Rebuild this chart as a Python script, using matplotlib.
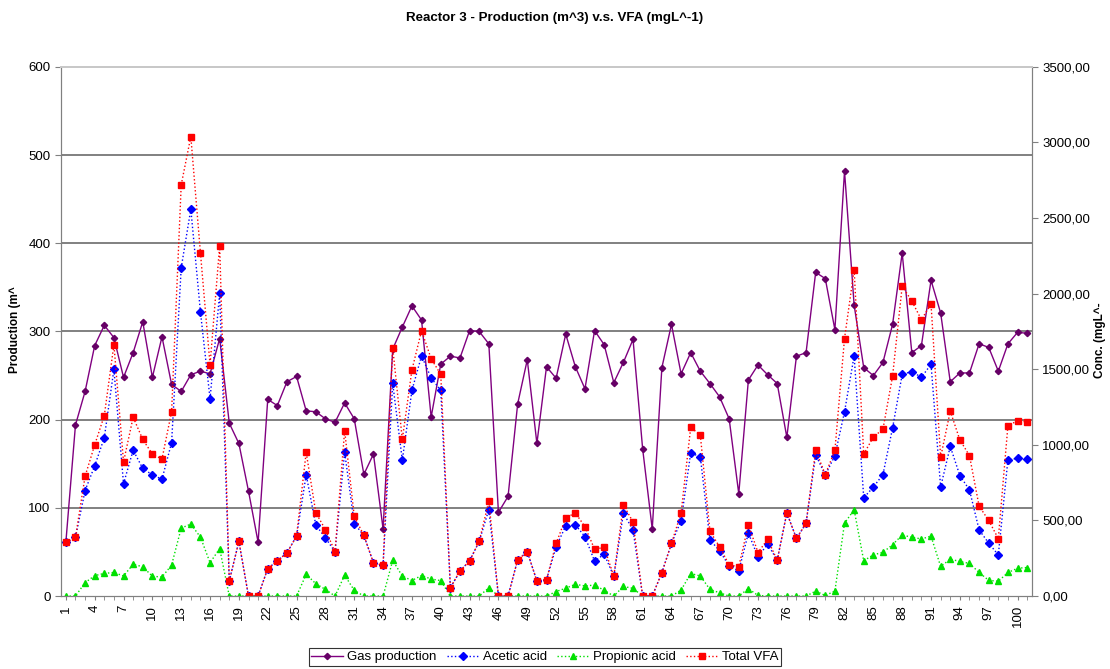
import matplotlib
matplotlib.use("Agg")
import matplotlib.pyplot as plt
from matplotlib.lines import Line2D
from matplotlib.ticker import FuncFormatter

plt.rcParams['font.family'] = ['Liberation Sans', 'DejaVu Sans']

# day index 1..101
days = list(range(1, 102))

# gas production (m^3), left axis
gas_production = [
    61, 194, 232, 284, 307, 293, 248, 276, 311, 248,
    294, 240, 232, 251, 255, 252, 292, 196, 173, 119,
    61, 223, 216, 243, 249, 210, 209, 201, 197, 219,
    201, 138, 161, 76, 280, 305, 329, 313, 203, 263,
    272, 270, 301, 300, 286, 95, 113, 218, 268, 173,
    260, 247, 297, 260, 235, 301, 285, 242, 265, 291,
    167, 76, 259, 308, 252, 276, 255, 241, 226, 201,
    116, 245, 262, 251, 241, 180, 272, 276, 367, 360,
    302, 482, 330, 259, 250, 265, 308, 389, 276, 284,
    358, 321, 243, 253, 253, 286, 282, 255, 286, 299,
    298,
]

# concentrations (mg/L), right axis
acetic_acid = [
    355, 388, 698, 861, 1048, 1499, 743, 965, 844, 802,
    773, 1015, 2171, 2559, 1880, 1305, 2003, 100, 362, 0,
    0, 182, 233, 286, 397, 802, 470, 385, 293, 953,
    480, 401, 220, 204, 1407, 899, 1360, 1589, 1443, 1360,
    55, 166, 233, 362, 572, 0, 0, 240, 293, 100,
    109, 326, 464, 472, 393, 231, 277, 131, 548, 437,
    0, 0, 155, 348, 499, 946, 922, 373, 299, 200,
    166, 417, 259, 344, 237, 550, 381, 481, 935, 800,
    929, 1218, 1589, 650, 721, 804, 1112, 1466, 1485, 1447,
    1533, 721, 990, 797, 702, 438, 350, 272, 903, 910,
    906,
]

propionic_acid = [
    0, 0, 89, 135, 150, 156, 133, 210, 194, 131,
    126, 205, 450, 476, 390, 221, 314, 0, 0, 0,
    0, 0, 0, 0, 0, 144, 82, 44, 0, 138,
    38, 0, 0, 0, 236, 132, 103, 136, 113, 102,
    0, 0, 0, 0, 55, 0, 0, 0, 0, 0,
    0, 30, 52, 78, 67, 73, 38, 0, 64, 51,
    0, 0, 0, 0, 40, 149, 133, 44, 22, 0,
    0, 49, 4, 0, 0, 0, 0, 0, 33, 4,
    33, 482, 571, 233, 273, 289, 340, 404, 389, 378,
    396, 196, 244, 229, 216, 156, 104, 98, 156, 184,
    189,
]

total_vfa = [
    355, 388, 792, 1000, 1194, 1663, 887, 1183, 1036, 939,
    906, 1220, 2720, 3039, 2270, 1530, 2318, 100, 362, 0,
    0, 182, 233, 286, 397, 951, 552, 439, 293, 1095,
    528, 401, 220, 204, 1644, 1036, 1495, 1755, 1570, 1466,
    55, 166, 233, 362, 628, 0, 0, 240, 293, 100,
    109, 348, 517, 550, 459, 310, 322, 131, 603, 490,
    0, 0, 155, 348, 550, 1116, 1064, 430, 326, 206,
    194, 472, 288, 375, 237, 550, 381, 481, 965, 804,
    963, 1703, 2159, 939, 1052, 1104, 1454, 2050, 1951, 1828,
    1932, 918, 1223, 1033, 929, 595, 500, 380, 1128, 1159,
    1152,
]

gas_color = "#800080"
acetic_color = "#0000FF"
propionic_color = "#00E000"
total_color = "#FF0000"

fig = plt.figure(figsize=(11.1, 6.69), dpi=100)
ax = fig.add_axes([0.055, 0.109, 0.8747, 0.791])
ax2 = ax.twinx()

ax.plot(days, gas_production, color=gas_color, lw=1.0, marker="D", ms=3.2,
        mfc="#660066", mec="#660066", zorder=3)

ax2.plot(days, acetic_acid, color=acetic_color, lw=1.0, ls=":", marker="D",
         ms=3.8, mfc=acetic_color, mec=acetic_color)
ax2.plot(days, propionic_acid, color=propionic_color, lw=1.0, ls=":", marker="^",
         ms=5, mfc=propionic_color, mec=propionic_color)
ax2.plot(days, total_vfa, color=total_color, lw=1.0, ls=":", marker="s",
         ms=4.8, mfc=total_color, mec=total_color)

ax.set_xlim(0.5, 101.5)
ax.set_ylim(0, 600)
ax2.set_ylim(0, 3500)

# horizontal gridlines on the production axis
for level in range(100, 600, 100):
    ax.axhline(level, color="#808080", lw=1.4, zorder=0)

ax.set_yticks(range(0, 700, 100))
ax2.set_yticks(range(0, 4000, 500))
ax2.yaxis.set_major_formatter(FuncFormatter(lambda v, p: f"{v:.2f}".replace(".", ",")))

ax.set_xticks(days, minor=True)
ax.set_xticks(days[::3])
ax.set_xticklabels([str(d) for d in days[::3]], rotation=90, fontsize=9.5)
ax.tick_params(axis="x", which="both", direction="out", length=3, color="#808080")
ax.tick_params(axis="y", direction="out", length=4, color="#808080", labelsize=9.5)
ax2.tick_params(axis="y", direction="out", length=4, color="#808080", labelsize=9.5)

for a in (ax, ax2):
    a.spines["left"].set_color("#808080")
    a.spines["right"].set_color("#808080")
    a.spines["bottom"].set_color("#808080")
    a.spines["top"].set_color("#C8C8C8")
    a.spines["top"].set_linewidth(1.4)

fig.text(0.5, 1 - 18 / 669, "Reactor 3 - Production (m^3) v.s. VFA (mgL^-1)",
         ha="center", va="center", fontsize=9.6, fontweight="bold")
fig.text(15 / 1110, 1 - 330 / 669, "Production (m^", rotation=90,
         ha="center", va="center", fontsize=8.5, fontweight="bold")
fig.text(1100 / 1110, 1 - 340 / 669, "Conc. (mgL^-", rotation=90,
         ha="center", va="center", fontsize=8.5, fontweight="bold")

handles = [
    Line2D([], [], color=gas_color, lw=1.0, marker="D", ms=3.2, mfc="#660066", mec="#660066"),
    Line2D([], [], color=acetic_color, lw=1.0, ls=":", marker="D", ms=3.8),
    Line2D([], [], color=propionic_color, lw=1.0, ls=":", marker="^", ms=5),
    Line2D([], [], color=total_color, lw=1.0, ls=":", marker="s", ms=4.8),
]
labels = ["Gas production", "Acetic acid", "Propionic acid", "Total VFA"]
leg = fig.legend(handles, labels, loc="center", bbox_to_anchor=(545 / 1110, 1 - 657 / 669),
                 ncol=4, fontsize=9.5, frameon=True, fancybox=False, handlelength=2.4,
                 handletextpad=0.3, columnspacing=0.8, borderpad=0.2)
leg.get_frame().set_edgecolor("black")
leg.get_frame().set_linewidth(0.8)

fig.savefig("out.png", dpi=100)
